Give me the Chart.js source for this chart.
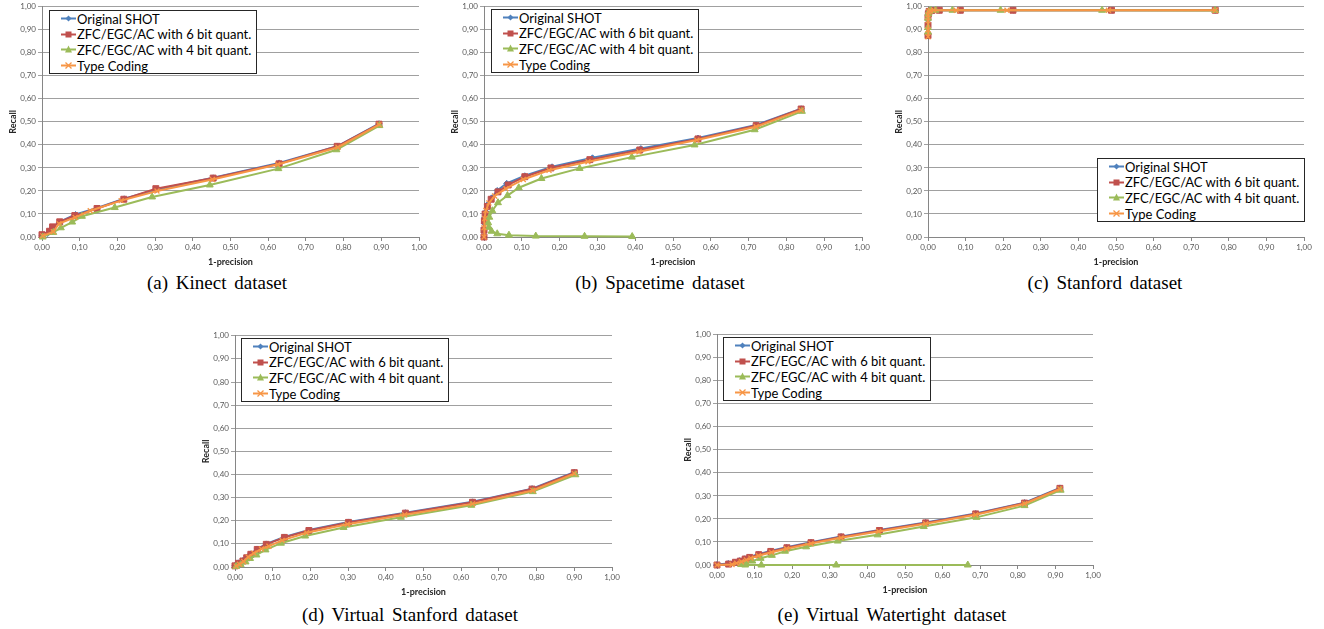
<!DOCTYPE html>
<html>
<head>
<meta charset="utf-8">
<script src="https://cdn.jsdelivr.net/npm/chart.js@4.4.1/dist/chart.umd.min.js"></script>
<style>
  body { margin: 0; background: #fff; width: 1324px; height: 629px; position: relative; overflow: hidden; font-family: Lato, sans-serif; }
  canvas { position: absolute; }
  .legend { position: absolute; background: #fff; border: 1px solid #262626; font-size: 13px; color: #000; box-sizing: border-box; padding: 0 5px 0 11px; }
  .legend div { height: 15.6px; white-space: nowrap; display: flex; align-items: center; }
  .legend svg { flex: none; margin-right: 1px; }
  .caption { position: absolute; font-family: "Liberation Serif", serif; font-size: 19px; transform: translate(-50%, -50%); white-space: nowrap; word-spacing: 3px; color: #000; }
</style>
</head>
<body>
<script>
// series names, same in every panel
const seriesNames = ['Original SHOT', 'ZFC/EGC/AC with 6 bit quant.', 'ZFC/EGC/AC with 4 bit quant.', 'Type Coding']

// (a) Kinect: [1-precision, recall]
const kinectOriginal = [[0,0.005],[0.015,0.015],[0.025,0.035],[0.045,0.065],[0.089,0.098],[0.146,0.126],[0.218,0.166],[0.302,0.205],[0.454,0.257],[0.629,0.322],[0.783,0.394],[0.894,0.492]]
const kinectZfc6 = [[0,0.01],[0.02,0.025],[0.028,0.044],[0.047,0.066],[0.087,0.093],[0.146,0.124],[0.217,0.164],[0.302,0.21],[0.454,0.256],[0.629,0.318],[0.783,0.394],[0.894,0.49]]
const kinectZfc4 = [[0.002,0],[0.03,0.02],[0.05,0.04],[0.08,0.065],[0.106,0.09],[0.193,0.128],[0.292,0.174],[0.445,0.226],[0.627,0.297],[0.781,0.379],[0.895,0.484]]
const kinectType = [[0.002,0.005],[0.03,0.023],[0.045,0.058],[0.088,0.085],[0.128,0.114],[0.21,0.158],[0.305,0.2],[0.452,0.25],[0.625,0.315],[0.785,0.39],[0.894,0.488]]

// (b) Spacetime
const spaceOriginal = [[0,0],[0,0.03],[0.001,0.06],[0.002,0.085],[0.005,0.11],[0.009,0.14],[0.02,0.17],[0.035,0.202],[0.06,0.233],[0.108,0.266],[0.18,0.305],[0.287,0.344],[0.415,0.384],[0.566,0.43],[0.72,0.487],[0.839,0.557]]
const spaceZfc6 = [[0,0],[0,0.03],[0.001,0.07],[0.003,0.1],[0.009,0.133],[0.019,0.164],[0.037,0.196],[0.064,0.226],[0.108,0.262],[0.177,0.3],[0.28,0.336],[0.412,0.378],[0.566,0.426],[0.72,0.484],[0.839,0.556]]
const spaceZfc4 = [[0.392,0.002],[0.266,0.003],[0.137,0.004],[0.066,0.008],[0.035,0.014],[0.02,0.025],[0.013,0.042],[0.011,0.062],[0.014,0.086],[0.022,0.114],[0.037,0.149],[0.062,0.18],[0.092,0.214],[0.152,0.254],[0.253,0.298],[0.391,0.347],[0.557,0.4],[0.716,0.466],[0.841,0.546]]
const spaceType = [[0,0],[0,0.04],[0.002,0.08],[0.005,0.115],[0.013,0.148],[0.028,0.178],[0.058,0.21],[0.104,0.25],[0.172,0.29],[0.275,0.327],[0.41,0.37],[0.563,0.421],[0.72,0.479],[0.839,0.551]]

// (c) Stanford
const stanOriginal = [[0,0.88],[0,0.93],[0,0.96],[0.001,0.975],[0.003,0.982],[0.01,0.985],[0.03,0.985],[0.087,0.985],[0.228,0.985],[0.49,0.985],[0.764,0.985]]
const stanZfc6 = [[0,0.875],[0,0.92],[0,0.955],[0.001,0.97],[0.003,0.98],[0.01,0.984],[0.03,0.985],[0.086,0.985],[0.226,0.985],[0.488,0.985],[0.764,0.985]]
const stanZfc4 = [[0,0.89],[0,0.91],[0,0.95],[0.001,0.97],[0.003,0.98],[0.008,0.984],[0.02,0.985],[0.065,0.985],[0.193,0.985],[0.463,0.985],[0.764,0.984]]
const stanType = [[0,0.87],[0,0.9],[0,0.94],[0,0.965],[0.002,0.978],[0.006,0.983],[0.015,0.985],[0.075,0.985],[0.21,0.985],[0.48,0.985],[0.764,0.985]]

// (d) Virtual Stanford
const vsOriginal = [[0,0.007],[0.009,0.018],[0.021,0.028],[0.031,0.042],[0.042,0.057],[0.059,0.078],[0.083,0.1],[0.131,0.13],[0.196,0.16],[0.301,0.195],[0.452,0.235],[0.63,0.282],[0.788,0.339],[0.9,0.41]]
const vsZfc6 = [[0,0.005],[0.009,0.016],[0.021,0.026],[0.031,0.04],[0.042,0.055],[0.059,0.076],[0.083,0.098],[0.131,0.128],[0.196,0.158],[0.301,0.193],[0.452,0.233],[0.63,0.28],[0.788,0.337],[0.9,0.408]]
const vsZfc4 = [[0.003,0.002],[0.015,0.01],[0.028,0.022],[0.04,0.037],[0.057,0.052],[0.081,0.074],[0.122,0.103],[0.186,0.134],[0.288,0.171],[0.44,0.215],[0.627,0.267],[0.79,0.326],[0.903,0.399]]
const vsType = [[0.003,0.004],[0.012,0.012],[0.023,0.024],[0.035,0.043],[0.05,0.06],[0.07,0.078],[0.09,0.09],[0.125,0.115],[0.19,0.148],[0.298,0.185],[0.45,0.226],[0.63,0.273],[0.79,0.331],[0.9,0.404]]

// (e) Virtual Watertight
const vwOriginal = [[0,0.002],[0.03,0.007],[0.047,0.013],[0.06,0.019],[0.073,0.027],[0.085,0.034],[0.11,0.047],[0.142,0.061],[0.185,0.077],[0.25,0.099],[0.33,0.124],[0.432,0.152],[0.555,0.185],[0.688,0.224],[0.818,0.271],[0.912,0.335]]
const vwZfc6 = [[0,0],[0.031,0.004],[0.049,0.012],[0.062,0.017],[0.075,0.026],[0.087,0.033],[0.111,0.045],[0.143,0.059],[0.186,0.075],[0.25,0.097],[0.33,0.122],[0.432,0.15],[0.555,0.183],[0.688,0.222],[0.818,0.269],[0.912,0.333]]
const vwZfc4 = [[0.667,0],[0.317,0],[0.118,0],[0.075,0],[0.064,0.002],[0.077,0.008],[0.094,0.017],[0.116,0.029],[0.146,0.042],[0.181,0.06],[0.237,0.079],[0.321,0.104],[0.427,0.131],[0.55,0.167],[0.69,0.207],[0.818,0.258],[0.914,0.325]]
const vwType = [[0,0],[0.04,0.002],[0.052,0.008],[0.065,0.014],[0.078,0.022],[0.09,0.03],[0.11,0.04],[0.145,0.055],[0.185,0.071],[0.25,0.093],[0.33,0.118],[0.43,0.146],[0.555,0.179],[0.688,0.218],[0.818,0.266],[0.912,0.33]]

const captions = ['(a) Kinect dataset', '(b) Spacetime dataset', '(c) Stanford dataset', '(d) Virtual Stanford dataset', '(e) Virtual Watertight dataset']

// look of the series
const colors = ['#4F81BD', '#C0504D', '#9BBB59', '#F79646']
const pointStyles = ['rectRot', 'rect', 'triangle', 'crossRot']
const pointRadii = [3, 4.2, 4, 3.5]

// where each panel sits: plot area [left, top, right, bottom], legend [left, top], caption centre
const panels = [
  {series: [kinectOriginal, kinectZfc6, kinectZfc4, kinectType], plot: [42, 6, 419, 237], legend: [49, 10], caption: [217, 283]},
  {series: [spaceOriginal, spaceZfc6, spaceZfc4, spaceType], plot: [484, 6, 862, 237], legend: [491, 9], caption: [660, 283]},
  {series: [stanOriginal, stanZfc6, stanZfc4, stanType], plot: [928, 6, 1304, 237], legend: [1097, 158], caption: [1105, 283]},
  {series: [vsOriginal, vsZfc6, vsZfc4, vsType], plot: [235, 335, 612, 567], legend: [241, 338], caption: [410, 615]},
  {series: [vwOriginal, vwZfc6, vwZfc4, vwType], plot: [717, 334, 1093, 565], legend: [723, 337], caption: [892, 615]}
]

const Y_AXIS_W = 42
const X_AXIS_H = 31
const PAD_TOP = 6
const PAD_RIGHT = 11

const fmt = v => Number(v).toFixed(2).replace('.', ',')

// little line + marker for the html legend
const legendIcon = (i) => {
  const c = colors[i]
  let mark = ''
  if (i == 0) mark = `<polygon points="7.5,1.5 10.5,4.5 7.5,7.5 4.5,4.5" fill="${c}"/>`
  if (i == 1) mark = `<rect x="4.5" y="1.5" width="6" height="6" fill="${c}"/>`
  if (i == 2) mark = `<polygon points="7.5,0.5 11,7.5 4,7.5" fill="${c}"/>`
  if (i == 3) mark = `<path d="M4.5 1.5 L10.5 7.5 M10.5 1.5 L4.5 7.5" stroke="${c}" stroke-width="1.3"/>`
  return `<svg width="15" height="9"><line x1="0" y1="4.5" x2="15" y2="4.5" stroke="${c}" stroke-width="2"/>${mark}</svg>`
}

const scaleBase = (title) => ({
  type: 'linear',
  min: 0,
  max: 1,
  ticks: {stepSize: 0.1, callback: fmt, font: {family: 'Lato', size: 8}, color: '#595959', padding: 2, maxRotation: 0, autoSkip: false},
  border: {color: '#868686', width: 1},
  title: {display: true, text: title, font: {family: 'Lato', size: 9, weight: 'bold'}, color: '#262626'}
})

panels.forEach((p, k) => {
  const [l, t, r, b] = p.plot
  const cv = document.createElement('canvas')
  cv.width = r - l + Y_AXIS_W + PAD_RIGHT
  cv.height = b - t + PAD_TOP + X_AXIS_H
  cv.style.left = (l - Y_AXIS_W) + 'px'
  cv.style.top = (t - PAD_TOP) + 'px'
  document.body.appendChild(cv)

  const xScale = scaleBase('1-precision')
  xScale.grid = {drawOnChartArea: false, drawTicks: true, tickLength: 4, color: '#868686'}
  xScale.title.padding = {top: 0, bottom: 1}
  xScale.afterFit = s => { s.height = X_AXIS_H }

  const yScale = scaleBase('Recall')
  yScale.grid = {drawOnChartArea: true, drawTicks: true, tickLength: 4, color: '#a0a0a0'}
  yScale.title.padding = {top: 8, bottom: 0}
  yScale.afterFit = s => { s.width = Y_AXIS_W }

  new Chart(cv, {
    type: 'scatter',
    data: {
      datasets: p.series.map((pts, i) => ({
        label: seriesNames[i],
        data: pts.map(v => ({x: v[0], y: v[1]})),
        showLine: true,
        tension: 0,
        borderColor: colors[i],
        backgroundColor: colors[i],
        borderWidth: 2,
        pointStyle: pointStyles[i],
        pointRadius: pointRadii[i],
        pointBorderWidth: i == 3 ? 1.3 : 1,
        pointBorderColor: colors[i],
        pointBackgroundColor: colors[i],
        order: 3 - i,
        clip: false
      }))
    },
    options: {
      responsive: false,
      animation: false,
      devicePixelRatio: 1,
      layout: {padding: {left: 0, top: PAD_TOP, right: PAD_RIGHT, bottom: 0}},
      plugins: {legend: {display: false}, tooltip: {enabled: false}},
      scales: {x: xScale, y: yScale}
    }
  })

  // legend box
  const lg = document.createElement('div')
  lg.className = 'legend'
  lg.style.left = p.legend[0] + 'px'
  lg.style.top = p.legend[1] + 'px'
  lg.innerHTML = seriesNames.map((n, i) => `<div>${legendIcon(i)}<span>${n}</span></div>`).join('')
  document.body.appendChild(lg)

  // caption
  const cap = document.createElement('div')
  cap.className = 'caption'
  cap.style.left = p.caption[0] + 'px'
  cap.style.top = p.caption[1] + 'px'
  cap.textContent = captions[k]
  document.body.appendChild(cap)
})
</script>
</body>
</html>
